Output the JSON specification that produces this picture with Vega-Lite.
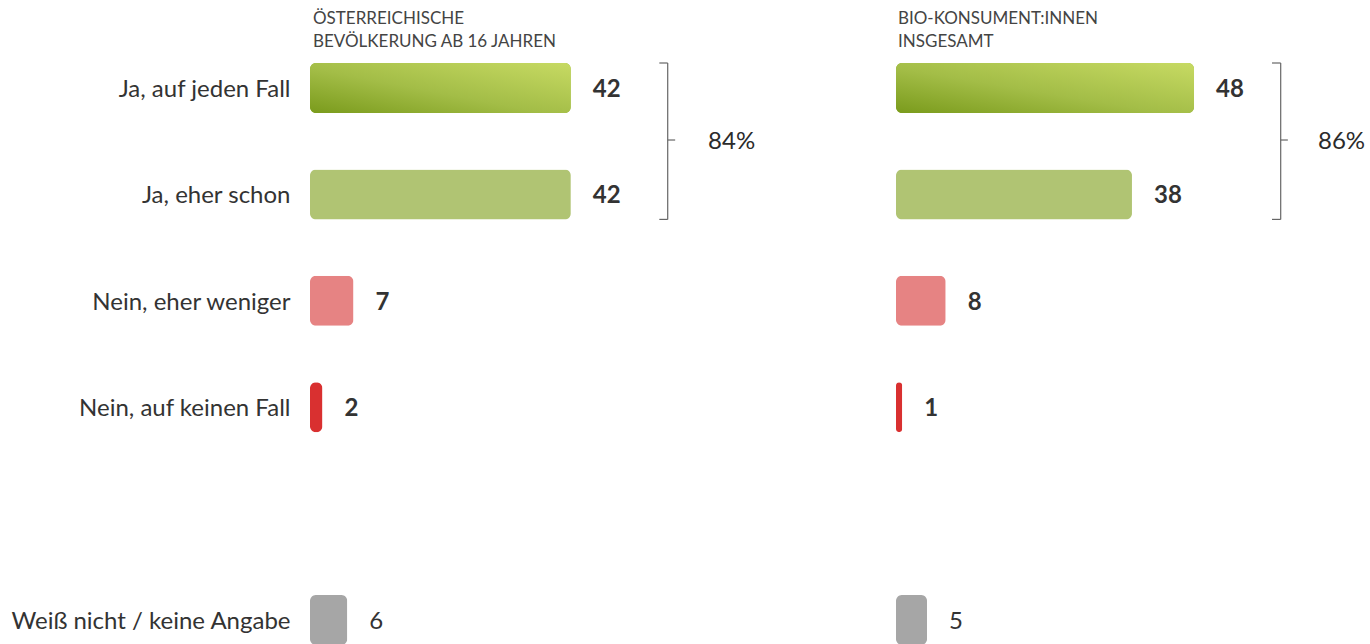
{
  "$schema": "https://vega.github.io/schema/vega-lite/v6.json",
  "padding": {"left": 0, "top": 10, "right": 0, "bottom": 0},
  "background": "white",
  "datasets": {
    "at": [
      {"answer": "Ja, auf jeden Fall", "value": 42},
      {"answer": "Ja, eher schon", "value": 42},
      {"answer": "Nein, eher weniger", "value": 7},
      {"answer": "Nein, auf keinen Fall", "value": 2},
      {"answer": "Weiß nicht / keine Angabe", "value": 6}
    ],
    "bio": [
      {"answer": "Ja, auf jeden Fall", "value": 48},
      {"answer": "Ja, eher schon", "value": 38},
      {"answer": "Nein, eher weniger", "value": 8},
      {"answer": "Nein, auf keinen Fall", "value": 1},
      {"answer": "Weiß nicht / keine Angabe", "value": 5}
    ],
    "at_bracket": [
      {"top": "Ja, auf jeden Fall", "bottom": "Ja, eher schon", "x": 57.6, "hook": 56.25, "tick": 58.8, "label_x": 64.1, "label": "84%"}
    ],
    "bio_bracket": [
      {"top": "Ja, auf jeden Fall", "bottom": "Ja, eher schon", "x": 61.95, "hook": 60.55, "tick": 63.1, "label_x": 67.95, "label": "86%"}
    ]
  },
  "spacing": 20,
  "hconcat": [
    {
      "width": 566,
      "height": 582,
      "title": {"text": ["ÖSTERREICHISCHE", "BEVÖLKERUNG AB 16 JAHREN"], "anchor": "start", "frame": "group", "fontSize": 17, "fontWeight": "normal", "color": "#444444", "lineHeight": 23, "offset": 11, "font": "Lato", "dx": 3},
      "layer": [
        {
          "data": {"name": "at"},
          "mark": {"type": "bar", "cornerRadius": 6},
          "encoding": {
            "y": {"field": "answer", "type": "nominal", "title": null, "sort": null,
                  "scale": {"domain": ["Ja, auf jeden Fall", "Ja, eher schon", "Nein, eher weniger", "Nein, auf keinen Fall", " ", "Weiß nicht / keine Angabe"], "paddingInner": 0.53, "paddingOuter": 0}},
            "x": {"field": "value", "type": "quantitative", "scale": {"domain": [0, 91.14], "nice": false}, "axis": null},
            "color": {"field": "answer", "type": "nominal", "legend": null,
                      "scale": {"domain": ["Ja, auf jeden Fall", "Ja, eher schon", "Nein, eher weniger", "Nein, auf keinen Fall", "Weiß nicht / keine Angabe"], "range": ["#9cb83a", "#b0c473", "#e68383", "#d93030", "#a6a6a6"]}}
          }
        },
        {
          "data": {"name": "at"},
          "transform": [{"filter": "datum.answer === 'Ja, auf jeden Fall'"}],
          "mark": {"type": "bar", "cornerRadius": 6, "color": {"gradient": "linear", "x1": 0, "y1": 1, "x2": 1, "y2": 0, "stops": [{"offset": 0, "color": "#7a9b1c"}, {"offset": 0.45, "color": "#a3bd47"}, {"offset": 1, "color": "#c7da63"}]}},
          "encoding": {
            "y": {"field": "answer", "type": "nominal", "title": null},
            "x": {"field": "value", "type": "quantitative", "axis": null}
          }
        },
        {
          "data": {"name": "at"},
          "transform": [{"filter": "datum.answer !== 'Weiß nicht / keine Angabe'"}],
          "mark": {"type": "text", "align": "left", "baseline": "middle", "dx": 22, "dy": 2, "font": "Lato", "fontSize": 24, "fontWeight": "bold", "color": "#333333"},
          "encoding": {
            "y": {"field": "answer", "type": "nominal", "title": null},
            "x": {"field": "value", "type": "quantitative", "axis": null},
            "text": {"field": "value", "type": "quantitative"}
          }
        },
        {
          "data": {"name": "at"},
          "transform": [{"filter": "datum.answer === 'Weiß nicht / keine Angabe'"}],
          "mark": {"type": "text", "align": "left", "baseline": "middle", "dx": 22, "dy": 2, "font": "Lato", "fontSize": 24, "fontWeight": "normal", "color": "#333333"},
          "encoding": {
            "y": {"field": "answer", "type": "nominal", "title": null},
            "x": {"field": "value", "type": "quantitative", "axis": null},
            "text": {"field": "value", "type": "quantitative"}
          }
        },
        {
          "data": {"name": "at_bracket"},
          "mark": {"type": "rule", "color": "#666666", "strokeWidth": 1.2},
          "encoding": {
            "x": {"field": "x", "type": "quantitative", "axis": null},
            "y": {"field": "top", "type": "nominal", "bandPosition": 0, "title": null},
            "y2": {"field": "bottom", "bandPosition": 1}
          }
        },
        {
          "data": {"name": "at_bracket"},
          "mark": {"type": "rule", "color": "#666666", "strokeWidth": 1.2},
          "encoding": {
            "x": {"field": "hook", "type": "quantitative", "axis": null},
            "x2": {"field": "x"},
            "y": {"field": "top", "type": "nominal", "bandPosition": 0, "title": null}
          }
        },
        {
          "data": {"name": "at_bracket"},
          "mark": {"type": "rule", "color": "#666666", "strokeWidth": 1.2},
          "encoding": {
            "x": {"field": "hook", "type": "quantitative", "axis": null},
            "x2": {"field": "x"},
            "y": {"field": "bottom", "type": "nominal", "bandPosition": 1, "title": null}
          }
        },
        {
          "data": {"name": "at_bracket"},
          "mark": {"type": "rule", "color": "#666666", "strokeWidth": 1.2},
          "encoding": {
            "x": {"field": "x", "type": "quantitative", "axis": null},
            "x2": {"field": "tick"},
            "y": {"field": "top", "type": "nominal", "bandPosition": 1.54, "title": null}
          }
        },
        {
          "data": {"name": "at_bracket"},
          "mark": {"type": "text", "align": "left", "baseline": "middle", "dy": 2, "font": "Lato", "fontSize": 24, "fontWeight": "normal", "color": "#2b2b2b"},
          "encoding": {
            "x": {"field": "label_x", "type": "quantitative", "axis": null},
            "y": {"field": "top", "type": "nominal", "bandPosition": 1.54, "title": null},
            "text": {"field": "label", "type": "nominal"}
          }
        }
      ]
    },
    {
      "width": 474,
      "height": 582,
      "title": {"text": ["BIO-KONSUMENT:INNEN", "INSGESAMT"], "anchor": "start", "frame": "group", "fontSize": 17, "fontWeight": "normal", "color": "#444444", "lineHeight": 23, "offset": 11, "font": "Lato", "dx": 2},
      "layer": [
        {
          "data": {"name": "bio"},
          "mark": {"type": "bar", "cornerRadius": 6},
          "encoding": {
            "y": {"field": "answer", "type": "nominal", "axis": null, "sort": null,
                  "scale": {"domain": ["Ja, auf jeden Fall", "Ja, eher schon", "Nein, eher weniger", "Nein, auf keinen Fall", " ", "Weiß nicht / keine Angabe"], "paddingInner": 0.53, "paddingOuter": 0}},
            "x": {"field": "value", "type": "quantitative", "scale": {"domain": [0, 76.33], "nice": false}, "axis": null},
            "color": {"field": "answer", "type": "nominal", "legend": null,
                      "scale": {"domain": ["Ja, auf jeden Fall", "Ja, eher schon", "Nein, eher weniger", "Nein, auf keinen Fall", "Weiß nicht / keine Angabe"], "range": ["#9cb83a", "#b0c473", "#e68383", "#d93030", "#a6a6a6"]}}
          }
        },
        {
          "data": {"name": "bio"},
          "transform": [{"filter": "datum.answer === 'Ja, auf jeden Fall'"}],
          "mark": {"type": "bar", "cornerRadius": 6, "color": {"gradient": "linear", "x1": 0, "y1": 1, "x2": 1, "y2": 0, "stops": [{"offset": 0, "color": "#7a9b1c"}, {"offset": 0.45, "color": "#a3bd47"}, {"offset": 1, "color": "#c7da63"}]}},
          "encoding": {
            "y": {"field": "answer", "type": "nominal", "axis": null},
            "x": {"field": "value", "type": "quantitative", "axis": null}
          }
        },
        {
          "data": {"name": "bio"},
          "transform": [{"filter": "datum.answer !== 'Weiß nicht / keine Angabe'"}],
          "mark": {"type": "text", "align": "left", "baseline": "middle", "dx": 22, "dy": 2, "font": "Lato", "fontSize": 24, "fontWeight": "bold", "color": "#333333"},
          "encoding": {
            "y": {"field": "answer", "type": "nominal", "axis": null},
            "x": {"field": "value", "type": "quantitative", "axis": null},
            "text": {"field": "value", "type": "quantitative"}
          }
        },
        {
          "data": {"name": "bio"},
          "transform": [{"filter": "datum.answer === 'Weiß nicht / keine Angabe'"}],
          "mark": {"type": "text", "align": "left", "baseline": "middle", "dx": 22, "dy": 2, "font": "Lato", "fontSize": 24, "fontWeight": "normal", "color": "#333333"},
          "encoding": {
            "y": {"field": "answer", "type": "nominal", "axis": null},
            "x": {"field": "value", "type": "quantitative", "axis": null},
            "text": {"field": "value", "type": "quantitative"}
          }
        },
        {
          "data": {"name": "bio_bracket"},
          "mark": {"type": "rule", "color": "#666666", "strokeWidth": 1.2},
          "encoding": {
            "x": {"field": "x", "type": "quantitative", "axis": null},
            "y": {"field": "top", "type": "nominal", "bandPosition": 0, "axis": null},
            "y2": {"field": "bottom", "bandPosition": 1}
          }
        },
        {
          "data": {"name": "bio_bracket"},
          "mark": {"type": "rule", "color": "#666666", "strokeWidth": 1.2},
          "encoding": {
            "x": {"field": "hook", "type": "quantitative", "axis": null},
            "x2": {"field": "x"},
            "y": {"field": "top", "type": "nominal", "bandPosition": 0, "axis": null}
          }
        },
        {
          "data": {"name": "bio_bracket"},
          "mark": {"type": "rule", "color": "#666666", "strokeWidth": 1.2},
          "encoding": {
            "x": {"field": "hook", "type": "quantitative", "axis": null},
            "x2": {"field": "x"},
            "y": {"field": "bottom", "type": "nominal", "bandPosition": 1, "axis": null}
          }
        },
        {
          "data": {"name": "bio_bracket"},
          "mark": {"type": "rule", "color": "#666666", "strokeWidth": 1.2},
          "encoding": {
            "x": {"field": "x", "type": "quantitative", "axis": null},
            "x2": {"field": "tick"},
            "y": {"field": "top", "type": "nominal", "bandPosition": 1.54, "axis": null}
          }
        },
        {
          "data": {"name": "bio_bracket"},
          "mark": {"type": "text", "align": "left", "baseline": "middle", "dy": 2, "font": "Lato", "fontSize": 24, "fontWeight": "normal", "color": "#2b2b2b"},
          "encoding": {
            "x": {"field": "label_x", "type": "quantitative", "axis": null},
            "y": {"field": "top", "type": "nominal", "bandPosition": 1.54, "axis": null},
            "text": {"field": "label", "type": "nominal"}
          }
        }
      ]
    }
  ],
  "config": {
    "font": "Lato",
    "view": {"stroke": null},
    "axis": {"domain": false, "ticks": false, "grid": false, "labelFont": "Lato", "labelFontSize": 24, "labelColor": "#333333", "labelPadding": 20},
    "axisY": {"minExtent": 310, "maxExtent": 310, "labelLimit": 400, "labelOffset": 2}
  }
}
